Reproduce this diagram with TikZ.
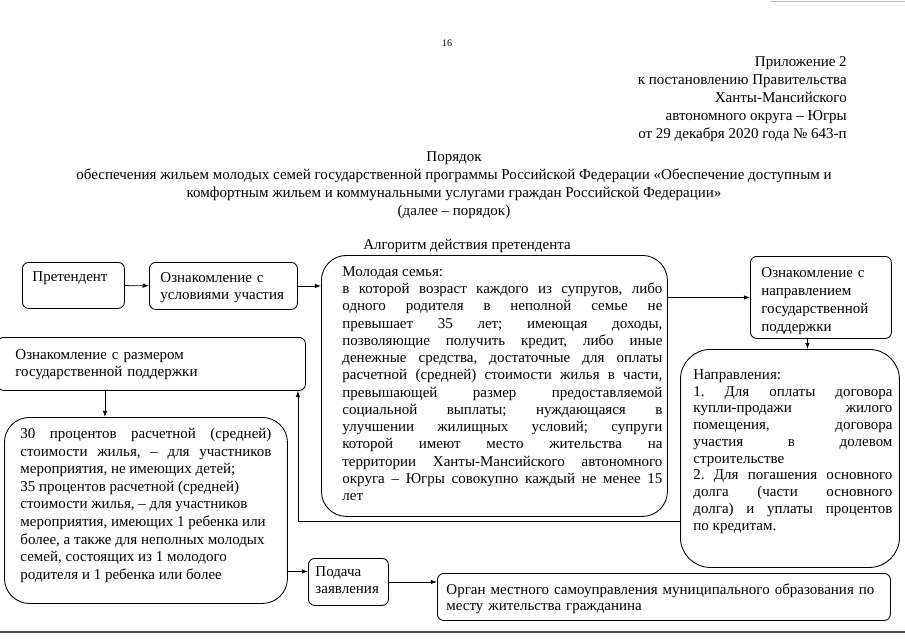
\documentclass[tikz,border=0pt]{standalone}
\usepackage{fontspec}
\setmainfont{Liberation Serif}
\frenchspacing
\usetikzlibrary{arrows.meta}
\tikzset{box/.style={draw,rounded corners=5pt,anchor=north west,align=left,
  font=\fontsize{12}{14}\selectfont,text height=9pt,line width=0.7pt},
  bigbox/.style={box,rounded corners=20pt,align=justify},
  arrow/.style={-{Latex[length=5pt,width=3.6pt]},line width=0.6pt}}
\newcommand{\jbox}[2]{\parbox[t]{#1}{\leftskip=0pt\rightskip=0pt\spaceskip=0pt\xspaceskip=0pt
  \parfillskip=0pt plus 1fil\relax #2}}

\begin{document}
\begin{tikzpicture}[x=0.8pt,y=-0.8pt]
\useasboundingbox (0,0) rectangle (905,640);
\node[font=\fontsize{8}{9}\selectfont,inner sep=0pt] (pg) at (447,43) {16};
\node[anchor=north east,align=right,inner sep=0pt,font=\fontsize{12}{14.4}\selectfont] (pril) at (847,56)
  {Приложение 2\\к постановлению Правительства\\Ханты-Мансийского\\автономного округа – Югры\\от 29 декабря 2020 года № 643-п};
\node[anchor=north,align=center,inner sep=0pt,font=\fontsize{12}{14.4}\selectfont] (ttl) at (454,151)
  {Порядок\\обеспечения жильем молодых семей государственной программы Российской Федерации «Обеспечение доступным и\\
  комфортным жильем и коммунальными услугами граждан Российской Федерации»\\(далее – порядок)};
\node[anchor=base,inner sep=0pt,font=\fontsize{12}{14}\selectfont] (alg) at (467,249) {Алгоритм действия претендента};
\node[box,inner xsep=8pt,inner ysep=6.2pt,text width=65.6pt,text depth=15.4pt] (pret) at (22,262) {Претендент};
\node[box,inner xsep=8.8pt,inner ysep=7pt,text width=100.8pt,text depth=14.6pt] (usl) at (149,262) {Ознакомление с\\условиями участия};
\node[bigbox,align=left,inner xsep=4pt,inner ysep=7.8pt,text width=268.8pt,text depth=184.2pt,
  font=\fontsize{12}{13.8}\selectfont] (mol) at (321,255) {\hspace*{12.8pt}\jbox{256pt}{Молодая семья:\\
  в которой возраст каждого из супругов, либо\linebreak одного родителя в неполной семье не\linebreak
  превышает 35 лет; имеющая доходы,\linebreak позволяющие получить кредит, либо иные\linebreak
  денежные средства, достаточные для оплаты\linebreak расчетной (средней) стоимости жилья в части,\linebreak
  превышающей размер предоставляемой\linebreak социальной выплаты; нуждающаяся в\linebreak
  улучшении жилищных условий; супруги\linebreak которой имеют место жительства на\linebreak
  территории Ханты-Мансийского автономного\linebreak округа – Югры совокупно каждый не менее 15\linebreak лет}};
\node[box,inner xsep=8.8pt,inner ysep=7.8pt,text width=95.2pt,text depth=41pt,
  font=\fontsize{12}{14.4}\selectfont] (naprS) at (750,256) {Ознакомление с\\направлением\\государственной\\поддержки};
\node[bigbox,align=left,rounded corners=24pt,inner xsep=5.6pt,inner ysep=15pt,text width=164pt,text depth=135.4pt,
  font=\fontsize{12}{13.4}\selectfont] (napr) at (680,349) {\hspace*{4.8pt}\jbox{159.2pt}{Направления:\\
  1. Для оплаты договора\linebreak купли-продажи жилого\linebreak помещения, договора\linebreak
  участия в долевом\linebreak строительстве\\
  2. Для погашения основного\linebreak долга (части основного\linebreak долга) и уплаты процентов\linebreak по кредитам.}};
\node[box,inner xsep=14.4pt,inner ysep=8.6pt,text width=217.6pt,text depth=16.2pt,
  font=\fontsize{12}{13.6}\selectfont] (razm) at (-3,337) {Ознакомление с размером\\государственной поддержки};
\node[bigbox,inner xsep=12.8pt,inner ysep=7.8pt,text width=200.8pt,text depth=124.2pt,
  font=\fontsize{12}{14.1}\selectfont] (perc) at (4,417) {30 процентов расчетной (средней)\linebreak
  стоимости жилья, – для участников\linebreak мероприятия, не имеющих детей;\\
  35 процентов расчетной (средней)\\стоимости жилья, – для участников\\мероприятия, имеющих 1 ребенка или\\
  более, а также для неполных молодых\\семей, состоящих из 1 молодого\\родителя и 1 ребенка или более};
\node[box,inner xsep=5.6pt,inner ysep=5.4pt,text width=52.8pt,text depth=17.8pt] (pod) at (308,558) {Подача\\заявления};
\node[box,inner xsep=7.2pt,inner ysep=7.8pt,text width=348pt,text depth=13pt,
  font=\fontsize{12}{13.2}\selectfont] (organ) at (437,573)
  {Орган местного самоуправления муниципального образования по\\месту жительства гражданина};
\draw[arrow] (pret)--(usl);\draw[arrow] (usl.east)--(usl.east -| mol.west);
\draw[arrow] (naprS.west -| mol.east)--(naprS.west);
\draw[arrow] ([xshift=-10.8pt]naprS.south)--([xshift=-10.8pt]naprS.south |- napr.north);
\draw[arrow] ([yshift=-50.4pt]napr.west) -| ([xshift=-6.4pt]razm.south east);
\draw[arrow] ([xshift=-37.2pt]razm.south)--([xshift=-37.2pt]razm.south |- perc.north);
\draw[arrow] ([yshift=8.4pt]pod.west -| perc.east)--([yshift=8.4pt]pod.west);
\draw[arrow] (pod.east)--(pod.east -| organ.west);
\draw[gray!60!black,line width=2pt] (0,632)--(905,632);
\draw[gray!50,line width=0.8pt] (770,1)--(905,1);
\end{tikzpicture}
\end{document}
